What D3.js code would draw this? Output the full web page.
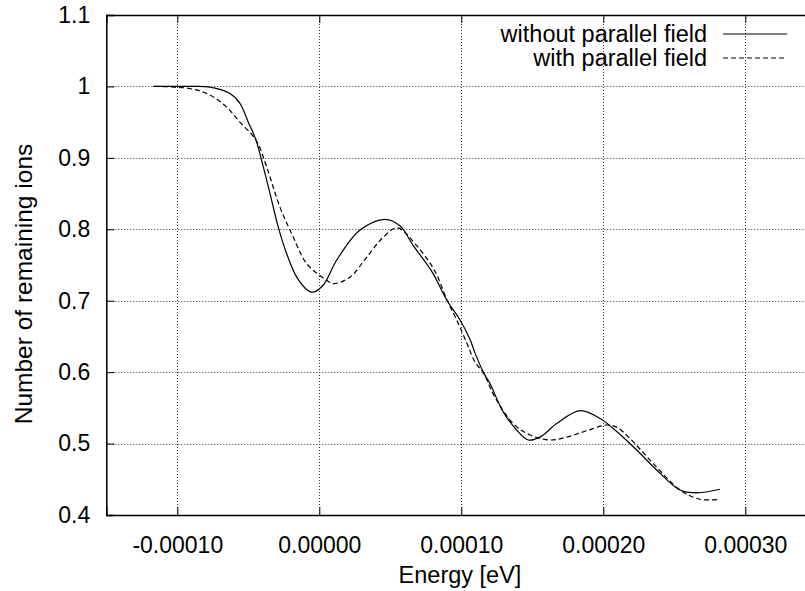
<!DOCTYPE html>
<html>
<head>
<meta charset="utf-8">
<script src="https://cdn.jsdelivr.net/npm/d3@7"></script>
<style>
body { margin: 0; background: #fff; }
svg { display: block; font-family: "Liberation Sans", Arial, sans-serif; }
</style>
</head>
<body>
<script>
// energy [eV] and fraction of ions left
var energyNoField = [-0.0001171, -0.0000911, -0.0000770, -0.0000629, -0.0000558, -0.0000500, -0.0000446,
    -0.0000394, -0.0000347, -0.0000289, -0.0000230, -0.0000159, -0.0000078, -0.0000042, 0.0000028,
    0.0000123, 0.0000287, 0.0000463, 0.0000568, 0.0000662, 0.0000792, 0.0000897, 0.0000991, 0.0001061,
    0.0001096, 0.0001155, 0.0001202, 0.0001296, 0.0001390, 0.0001472, 0.0001554, 0.0001672, 0.0001836,
    0.0001977, 0.0002070, 0.0002235, 0.0002376, 0.0002540, 0.0002658, 0.0002822];
var ionsNoField = [1.000, 1.000, 0.999, 0.990, 0.976, 0.950, 0.925,
    0.887, 0.850, 0.803, 0.766, 0.733, 0.714, 0.712, 0.722,
    0.757, 0.799, 0.814, 0.805, 0.777, 0.741, 0.701, 0.673, 0.646,
    0.627, 0.600, 0.584, 0.544, 0.519, 0.505, 0.509, 0.528, 0.546,
    0.535, 0.521, 0.491, 0.463, 0.435, 0.431, 0.436];

var energyField = [-0.0001157, -0.0000911, -0.0000770, -0.0000652, -0.0000559, -0.0000446, -0.0000370,
    -0.0000277, -0.0000183, -0.0000089, 0.0000049, 0.0000099, 0.0000216, 0.0000334, 0.0000451,
    0.0000550, 0.0000686, 0.0000815, 0.0000897, 0.0000968, 0.0001038, 0.0001097, 0.0001155,
    0.0001237, 0.0001366, 0.0001484, 0.0001625, 0.0001742, 0.0001883, 0.0002024, 0.0002094, 0.0002188,
    0.0002352, 0.0002540, 0.0002681, 0.0002822];
var ionsField = [1.000, 0.997, 0.988, 0.971, 0.950, 0.925, 0.887,
    0.831, 0.789, 0.752, 0.729, 0.724, 0.733, 0.761, 0.789,
    0.802, 0.777, 0.741, 0.702, 0.673, 0.641, 0.614, 0.599,
    0.565, 0.528, 0.512, 0.505, 0.509, 0.518, 0.526, 0.523, 0.507,
    0.472, 0.435, 0.422, 0.422];

var xTicks = [-0.0001, 0, 0.0001, 0.0002, 0.0003];
var yTicks = [0.4, 0.5, 0.6, 0.7, 0.8, 0.9, 1, 1.1];
var legendNames = ["without parallel field", "with parallel field"];

var width = 805, height = 591;
// plot box (right edge lies past the picture, as in the original)
var mLeft = 106.3, mTop = 15, plotW = 710, plotH = 500;

var svg = d3.select("body").append("svg")
    .attr("width", width)
    .attr("height", height);

var x = d3.scaleLinear().domain([-0.00015, 0.00035]).range([mLeft, mLeft + plotW]);
var y = d3.scaleLinear().domain([0.4, 1.1]).range([mTop + plotH, mTop]);

// grid (dotted)
var grid = svg.append("g").attr("stroke", "#333").attr("stroke-width", 1).attr("stroke-dasharray", "1,2");
xTicks.forEach(function(t) {
    grid.append("line").attr("x1", Math.round(x(t)) + 0.5).attr("x2", Math.round(x(t)) + 0.5)
        .attr("y1", mTop).attr("y2", mTop + plotH);
});
yTicks.forEach(function(t) {
    grid.append("line").attr("x1", mLeft).attr("x2", mLeft + plotW)
        .attr("y1", Math.round(y(t)) + 0.5).attr("y2", Math.round(y(t)) + 0.5);
});

// axes, ticks inside like gnuplot
var fmtX = function(d) { return d.toFixed(5); };
var fmtY = function(d) { return d3.format("~g")(d); };

var xAxis = svg.append("g").attr("transform", "translate(0," + (mTop + plotH) + ")")
    .call(d3.axisBottom(x).tickValues(xTicks).tickSize(-8).tickPadding(22).tickFormat(fmtX));
var xTop = svg.append("g").attr("transform", "translate(0," + mTop + ")")
    .call(d3.axisTop(x).tickValues(xTicks).tickSize(-8).tickFormat(""));
var yAxis = svg.append("g").attr("transform", "translate(" + mLeft + ",0)")
    .call(d3.axisLeft(y).tickValues(yTicks).tickSize(-8).tickPadding(16).tickFormat(fmtY));

[xAxis, xTop, yAxis].forEach(function(a) {
    a.select(".domain").attr("stroke", "#000").attr("stroke-width", 1.5);
    a.selectAll(".tick line").attr("stroke", "#000");
    a.selectAll("text").attr("font-size", 23).attr("fill", "#000")
        .attr("font-family", "Liberation Sans, Arial, sans-serif");
});

// curves
var line = d3.line().curve(d3.curveCatmullRom.alpha(0.5));
var solidPts = energyNoField.map(function(e, i) { return [x(e), y(ionsNoField[i])]; });
var dashPts = energyField.map(function(e, i) { return [x(e), y(ionsField[i])]; });

svg.append("path").attr("d", line(solidPts)).attr("fill", "none")
    .attr("stroke", "#000").attr("stroke-width", 1.2);
svg.append("path").attr("d", line(dashPts)).attr("fill", "none")
    .attr("stroke", "#000").attr("stroke-width", 1.2).attr("stroke-dasharray", "5,3");

// legend
var lg = svg.append("g").attr("font-size", 23.5);
legendNames.forEach(function(name, i) {
    var ly = 34 + i * 24;
    lg.append("text").attr("x", 707).attr("y", ly + 8).attr("text-anchor", "end").text(name);
    lg.append("line").attr("x1", 723).attr("x2", 787).attr("y1", ly).attr("y2", ly)
        .attr("stroke", "#000").attr("stroke-width", 1.2)
        .attr("stroke-dasharray", i == 1 ? "5,3" : null);
});

// axis labels
svg.append("text").attr("x", 460).attr("y", 583)
    .attr("text-anchor", "middle").attr("font-size", 23.5).text("Energy [eV]");
svg.append("text").attr("transform", "translate(32,284) rotate(-90)")
    .attr("text-anchor", "middle").attr("font-size", 24.5).text("Number of remaining ions");
</script>
</body>
</html>
